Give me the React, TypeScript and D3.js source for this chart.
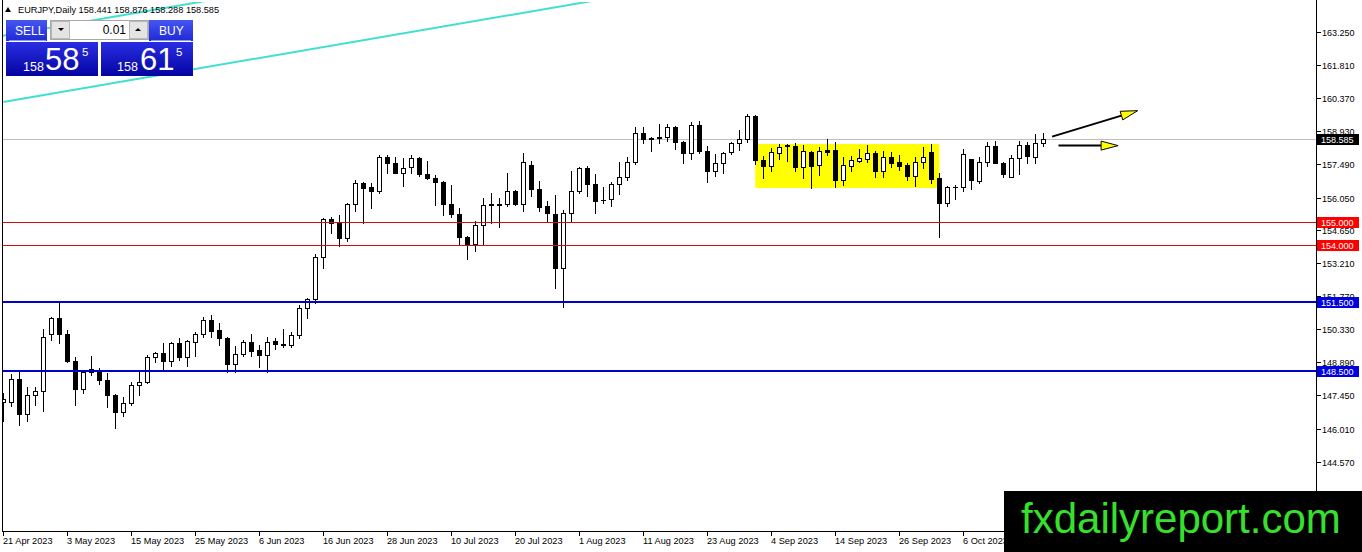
import React from 'react';
import * as d3 from 'd3';

const W = 1362;
const H = 552;

// x-axis labels, one every 8 daily bars starting at bar 0
const dateLabels = [
  '21 Apr 2023', '3 May 2023', '15 May 2023', '25 May 2023', '6 Jun 2023', '16 Jun 2023',
  '28 Jun 2023', '10 Jul 2023', '20 Jul 2023', '1 Aug 2023', '11 Aug 2023', '23 Aug 2023',
  '4 Sep 2023', '14 Sep 2023', '26 Sep 2023', '6 Oct 2023',
];

// EURJPY daily OHLC (bar 0 = 21 Apr 2023)
const openP = [
  147.16, 147.18, 148.15, 146.63, 147.45, 147.63, 150.11, 150.80, 150.11, 148.96,
  147.74, 148.58, 148.55, 148.12, 147.45, 146.74, 147.11, 147.89, 148.02, 149.11,
  149.28, 148.96, 149.74, 149.13, 149.78, 150.12, 150.72, 150.29, 149.93, 148.82,
  149.24, 149.77, 149.42, 149.19, 149.82, 149.68, 149.63, 150.06, 151.24, 151.63,
  153.45, 155.11, 154.99, 154.31, 155.76, 156.67, 156.50, 156.35, 157.80, 157.54,
  157.13, 157.39, 157.76, 157.08, 156.89, 156.74, 155.76, 155.34, 154.35, 154.03,
  154.85, 155.73, 155.75, 155.76, 156.34, 155.76, 157.47, 156.41, 155.68, 155.34,
  152.98, 155.37, 156.34, 157.32, 156.63, 155.96, 155.98, 156.63, 156.96, 157.61,
  158.85, 158.65, 158.66, 158.67, 159.11, 158.45, 157.98, 159.21, 158.09, 157.22,
  157.54, 158.02, 158.41, 158.58, 159.61, 157.68, 157.44, 157.98, 158.32, 158.31,
  157.39, 158.02, 157.47, 158.12, 158.12, 156.82, 157.42, 157.65, 157.72, 158.00,
  157.22, 157.83, 157.58, 157.47, 156.99, 157.61, 158.05, 156.89, 155.83, 156.53,
  156.52, 157.72, 156.78, 157.61, 158.29, 157.57, 156.96, 157.76, 158.34, 157.83,
  158.441,
];
const highP = [
  147.55, 148.37, 148.48, 147.80, 147.83, 150.32, 150.87, 151.45, 150.29, 149.13,
  148.55, 149.16, 148.63, 148.41, 147.51, 147.37, 148.05, 148.48, 149.19, 149.35,
  149.72, 149.78, 149.93, 149.86, 150.22, 150.87, 150.95, 150.58, 150.00, 149.60,
  149.86, 150.12, 149.64, 149.98, 149.93, 150.32, 150.22, 151.38, 151.67, 153.60,
  155.18, 155.22, 155.29, 155.83, 156.82, 156.74, 156.67, 157.90, 157.90, 157.80,
  157.76, 157.90, 157.83, 157.65, 157.03, 156.78, 156.60, 155.58, 154.38, 155.05,
  156.02, 156.24, 156.02, 157.13, 156.36, 157.98, 157.65, 156.78, 155.92, 156.16,
  155.51, 157.22, 157.39, 157.42, 157.08, 156.52, 156.74, 157.61, 157.83, 159.11,
  159.13, 158.68, 159.24, 159.24, 159.18, 158.51, 159.32, 159.38, 158.31, 157.93,
  158.05, 158.45, 158.99, 159.68, 159.64, 157.87, 158.22, 158.37, 158.37, 158.41,
  158.34, 158.08, 158.26, 158.58, 158.48, 157.80, 157.86, 158.15, 158.34, 158.09,
  158.09, 158.05, 157.90, 157.54, 157.83, 158.24, 158.38, 157.13, 156.55, 156.60,
  158.15, 157.74, 157.83, 158.48, 158.52, 157.61, 157.90, 158.52, 158.48, 158.82,
  158.876,
];
const lowP = [
  146.34, 146.99, 146.16, 146.35, 147.03, 146.78, 149.86, 149.72, 148.92, 147.02,
  147.57, 148.35, 147.95, 146.93, 146.02, 146.55, 147.03, 147.47, 147.98, 148.92,
  148.61, 148.73, 148.99, 148.73, 149.16, 150.00, 150.00, 149.64, 148.48, 148.48,
  149.16, 149.16, 148.70, 148.48, 149.48, 149.54, 149.57, 149.93, 150.80, 151.45,
  152.98, 154.52, 153.95, 154.18, 155.48, 154.96, 155.61, 156.26, 157.11, 157.11,
  156.55, 157.11, 156.99, 156.85, 155.73, 155.29, 155.22, 154.03, 153.37, 153.74,
  154.03, 154.93, 154.76, 155.70, 155.74, 155.48, 156.12, 155.48, 155.05, 152.11,
  151.31, 155.00, 156.24, 156.12, 155.39, 155.80, 155.68, 156.21, 156.82, 157.51,
  158.44, 158.09, 158.41, 158.52, 158.15, 157.54, 157.72, 157.98, 156.74, 156.99,
  157.13, 157.93, 158.12, 158.45, 157.50, 156.92, 157.21, 157.73, 157.64, 157.21,
  156.89, 156.48, 157.03, 157.90, 156.52, 156.60, 157.22, 157.58, 157.61, 156.93,
  156.93, 157.39, 157.25, 156.82, 156.55, 157.32, 156.67, 154.35, 155.68, 155.98,
  156.35, 156.41, 156.70, 157.42, 157.54, 156.93, 156.93, 157.08, 157.57, 157.57,
  158.288,
];
const closeP = [
  147.29, 148.15, 146.63, 147.45, 147.63, 149.98, 150.80, 150.11, 148.96, 147.74,
  148.48, 148.48, 148.12, 147.45, 146.74, 147.11, 147.89, 148.02, 149.11, 149.28,
  148.93, 149.74, 149.13, 149.82, 150.12, 150.72, 150.26, 149.93, 148.82, 149.24,
  149.77, 149.39, 149.19, 149.78, 149.67, 149.64, 150.06, 151.24, 151.63, 153.45,
  155.11, 154.96, 154.31, 155.76, 156.67, 156.48, 156.35, 157.80, 157.54, 157.13,
  157.32, 157.76, 157.08, 156.89, 156.74, 155.76, 155.34, 154.35, 154.03, 154.86,
  155.72, 155.75, 155.73, 156.34, 155.76, 157.61, 156.41, 155.65, 155.37, 152.98,
  155.37, 156.34, 157.32, 156.63, 155.92, 155.93, 156.63, 156.96, 157.61, 158.85,
  158.58, 158.58, 158.68, 159.11, 158.45, 157.98, 159.21, 158.09, 157.22, 157.54,
  157.98, 158.41, 158.58, 159.61, 157.68, 157.44, 158.02, 158.26, 158.29, 157.39,
  158.08, 157.44, 158.09, 158.05, 156.82, 157.47, 157.68, 157.76, 158.00, 157.22,
  157.83, 157.57, 157.44, 156.99, 157.61, 157.80, 156.85, 155.83, 156.50, 156.51,
  157.95, 156.82, 157.61, 158.29, 157.57, 157.08, 157.76, 158.34, 157.86, 158.41,
  158.585,
];

const priceTicks = [163.25, 161.81, 160.37, 158.93, 157.49, 156.05, 154.65, 153.21, 151.77, 150.33, 148.89, 147.45, 146.01, 144.57];
const redLevels = [155.0, 154.0];
const blueLevels = [151.5, 148.5];
const bidPrice = 158.585;

// trend lines as [bar, price] pairs
const trendLines = [
  [[0, 160.21], [80, 164.98]],
  [[-1, 163.03], [30, 164.88]],
];
// yellow range box: bars and prices
const zoneBars = [94, 117];
const zonePrices = [158.38, 156.47];
// arrows: [startBar, startPrice, tipBar, tipPrice]
const arrows = [
  [131.1, 158.7, 141.8, 159.83],
  [131.9, 158.31, 139.35, 158.31],
];

const FONT = '"Liberation Sans", Arial, sans-serif';

const PLOT_L = 2;
const PLOT_R = 1316;
const PLOT_B = 531;

const App = () => {
  const x = d3.scaleLinear().domain([0, 130]).range([3.3, 1043.3]);
  const y = d3.scaleLinear().domain([144.57, 163.25]).range([461.64, 32]);
  const line = d3.line<number[]>().x(d => x(d[0])).y(d => y(d[1]));

  const candles = openP.map((o, i) => {
    const c = closeP[i];
    const cx = Math.round(x(i));
    const yt = Math.round(y(Math.max(o, c)));
    const yb = Math.round(y(Math.min(o, c)));
    const up = c >= o;
    return (
      <g key={i}>
        <line x1={cx + 0.5} x2={cx + 0.5} y1={Math.round(y(highP[i]))} y2={Math.round(y(lowP[i])) + 1} stroke="#000" />
        {yb - yt < 1 ? (
          <line x1={cx - 2} x2={cx + 3} y1={yt + 0.5} y2={yt + 0.5} stroke="#000" />
        ) : (
          <rect x={cx - 1.5} y={yt + 0.5} width={4} height={yb - yt} fill={up ? '#fff' : '#000'} stroke="#000" />
        )}
      </g>
    );
  });

  const arrowShapes = arrows.map((a, i) => {
    const sx = x(a[0]), sy = y(a[1]), tx = x(a[2]), ty = y(a[3]);
    const len = Math.hypot(tx - sx, ty - sy);
    const ux = (tx - sx) / len, uy = (ty - sy) / len;
    const bx = tx - 17 * ux, by = ty - 17 * uy;
    const nx = -uy, ny = ux;
    const head = `M${tx},${ty}L${bx + 4.5 * nx},${by + 4.5 * ny}L${bx - 4.5 * nx},${by - 4.5 * ny}Z`;
    return (
      <g key={i}>
        <line x1={sx} y1={sy} x2={bx} y2={by} stroke="#000" strokeWidth={2} />
        <path d={head} fill="#ffff00" stroke="#000" strokeWidth={1} />
      </g>
    );
  });

  const levelBox = (p: number, fill: string, key: string) => {
    const cy = Math.round(y(p));
    return (
      <g key={key}>
        <rect x={1317} y={cy - 5} width={42} height={11} fill={fill} />
        <text x={1321} y={cy + 4} fontSize={9} fill="#fff" fontFamily={FONT}>{p.toFixed(3)}</text>
      </g>
    );
  };

  return (
    <div style={{ position: 'absolute', left: 0, top: 0 }}>
      <svg width={W} height={H} style={{ display: 'block', background: '#fff' }}>
        <defs>
          <clipPath id="plot">
            <rect x={PLOT_L + 1} y={2} width={PLOT_R - PLOT_L - 1} height={PLOT_B - 2} />
          </clipPath>
          <linearGradient id="btn" x1="0" y1="0" x2="0" y2="1">
            <stop offset="0" stopColor="#4656f2" />
            <stop offset="1" stopColor="#1e2ad6" />
          </linearGradient>
          <linearGradient id="pbox" x1="0" y1="0" x2="0" y2="1">
            <stop offset="0" stopColor="#2a2ee2" />
            <stop offset="1" stopColor="#0404a2" />
          </linearGradient>
        </defs>

        <g clipPath="url(#plot)">
          <rect
            x={x(zoneBars[0])} y={y(zonePrices[0])}
            width={x(zoneBars[1]) - x(zoneBars[0])} height={y(zonePrices[1]) - y(zonePrices[0])}
            fill="#ffff00"
          />
          <line x1={PLOT_L} x2={PLOT_R} y1={Math.round(y(bidPrice)) + 0.5} y2={Math.round(y(bidPrice)) + 0.5} stroke="#c0c0c0" />
          {trendLines.map((t, i) => (
            <path key={i} d={line(t) || ''} stroke="#40e0d0" strokeWidth={2} fill="none" />
          ))}
          {candles}
          {redLevels.map(p => (
            <line key={p} x1={PLOT_L} x2={PLOT_R} y1={Math.round(y(p)) + 0.5} y2={Math.round(y(p)) + 0.5} stroke="#d01010" />
          ))}
          {blueLevels.map(p => (
            <line key={p} x1={PLOT_L} x2={PLOT_R} y1={Math.round(y(p))} y2={Math.round(y(p))} stroke="#0000cd" strokeWidth={2} />
          ))}
        </g>
        {arrowShapes}

        {/* frame */}
        <line x1={PLOT_L + 0.5} x2={PLOT_L + 0.5} y1={0} y2={PLOT_B + 1} stroke="#000" />
        <line x1={PLOT_R + 0.5} x2={PLOT_R + 0.5} y1={0} y2={PLOT_B + 1} stroke="#000" />
        <line x1={PLOT_L} x2={PLOT_R + 1} y1={PLOT_B + 0.5} y2={PLOT_B + 0.5} stroke="#000" />

        {/* price axis */}
        {priceTicks.map(p => {
          const ty = Math.round(y(p)) + 0.5;
          return (
            <g key={p}>
              <line x1={PLOT_R} x2={PLOT_R + 5} y1={ty} y2={ty} stroke="#000" />
              <text x={1322} y={ty + 3.5} fontSize={9} fill="#000" fontFamily={FONT}>{p.toFixed(3)}</text>
            </g>
          );
        })}
        {redLevels.map(p => levelBox(p, '#ff0000', 'r' + p))}
        {blueLevels.map(p => levelBox(p, '#0000e0', 'b' + p))}
        {levelBox(bidPrice, '#000', 'bid')}

        {/* time axis */}
        {dateLabels.map((d, k) => {
          const tx = Math.round(x(k * 8)) + 0.5;
          return (
            <g key={d}>
              <line x1={tx} x2={tx} y1={PLOT_B} y2={PLOT_B + 5} stroke="#000" />
              <text x={tx - 0.5} y={544} fontSize={9.2} fill="#000" fontFamily={FONT}>{d}</text>
            </g>
          );
        })}

        {/* header */}
        <path d="M5,12L11,12L8,7Z" fill="#000" />
        <text x={18} y={13} fontSize={9.2} fill="#000" fontFamily={FONT}>
          EURJPY,Daily  158.441 158.876 158.288 158.585
        </text>

        {/* one-click trading panel */}
        <g fontFamily={FONT}>
          <rect x={6} y={20} width={41} height={21} fill="url(#btn)" />
          <line x1={9} x2={46} y1={40.5} y2={40.5} stroke="#8a96ff" />
          <text x={15} y={35} fontSize={12} fill="#fff">SELL</text>
          <rect x={149} y={20} width={44} height={21} fill="url(#btn)" />
          <line x1={151} x2={191} y1={40.5} y2={40.5} stroke="#8a96ff" />
          <text x={159} y={35} fontSize={12} fill="#fff">BUY</text>

          <rect x={50.5} y={20.5} width={98} height={19} fill="#fff" stroke="#a8a8a8" />
          <rect x={51.5} y={21.5} width={18} height={17} fill="#e4e4e4" stroke="#b8b8b8" />
          <rect x={129.5} y={21.5} width={18} height={17} fill="#e4e4e4" stroke="#b8b8b8" />
          <path d="M58,28L64,28L61,31Z" fill="#000" />
          <path d="M135,31L141,31L138,28Z" fill="#000" />
          <text x={126} y={34} fontSize={12} fill="#000" textAnchor="end">0.01</text>

          <rect x={6} y={42} width={92} height={34} fill="url(#pbox)" />
          <text x={23} y={71} fontSize={12.5} fill="#fff">158</text>
          <text x={45} y={70} fontSize={31} fill="#fff">58</text>
          <text x={82} y={56} fontSize={11.5} fill="#fff">5</text>

          <rect x={101} y={42} width={92} height={34} fill="url(#pbox)" />
          <text x={117} y={71} fontSize={12.5} fill="#fff">158</text>
          <text x={140} y={70} fontSize={31} fill="#fff">61</text>
          <text x={176} y={56} fontSize={11.5} fill="#fff">5</text>
        </g>

        {/* watermark */}
        <rect x={1004} y={491} width={W - 1004} height={H - 491} fill="#000" />
        <text x={1021} y={533} fontSize={42} fill="#38e02e" fontFamily={FONT}>fxdailyreport.com</text>
      </svg>
    </div>
  );
};

export default App;
